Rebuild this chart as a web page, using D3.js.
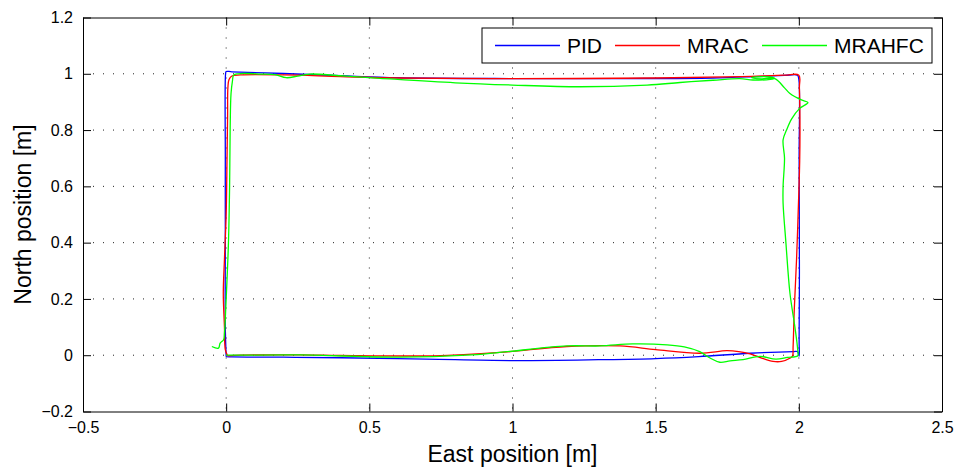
<!DOCTYPE html>
<html lang="en">
<head>
    <meta charset="UTF-8">
    <title>Position tracking - PID / MRAC / MRAHFC</title>
    <script src="https://d3js.org/d3.v7.min.js"></script>
    <style>
        body { margin: 0; background: #fff; font-family: "Liberation Sans", Arial, sans-serif; }
        .grid line { stroke: #222; stroke-dasharray: 1,9; stroke-width: 1; }
        .axis text { font-size: 16px; fill: #000; font-family: "Liberation Sans", Arial, sans-serif; }
        .axis path, .axis line { stroke: #000; }
    </style>
</head>
<body>
    <svg id="chart" width="961" height="468"></svg>

    <script>
        // tick values
        const xTicks = [-0.5, 0, 0.5, 1, 1.5, 2, 2.5];
        const yTicks = [-0.2, 0, 0.2, 0.4, 0.6, 0.8, 1, 1.2];

        // PID (blue) trajectory
        const pidX = [0.0, -0.003, -0.003, -0.003, -0.002, 0.0, 0.02, 0.2, 0.4, 0.6, 1.0, 1.4, 1.7, 1.85, 1.95, 1.995,
            2.0, 2.001, 2.002, 2.001, 2.001, 1.995, 1.98, 1.83, 1.65, 1.5, 1.3, 1.0, 0.7, 0.4, 0.2, 0.02, 0.0];
        const pidY = [-0.005, 0.1, 0.4, 0.7, 1.0, 1.008, 1.007, 1.001, 0.993, 0.986, 0.983, 0.983, 0.985, 0.99, 0.994, 0.995,
            0.98, 0.7, 0.3, 0.05, -0.003, 0.013, 0.013, 0.007, -0.005, -0.012, -0.016, -0.019, -0.014, -0.009, -0.007, -0.006, -0.005];

        // MRAC (red) trajectory
        const mracX = [0.005, -0.003, -0.006, -0.01, -0.006, 0.0, 0.003, 0.005, 0.006, 0.01, 0.02, 0.05, 0.2, 0.4, 0.6, 1.0, 1.5, 1.8, 1.95,
            2.0, 2.002, 2.004, 2.003, 2.0, 1.992, 1.984, 1.98, 1.978, 1.97, 1.94, 1.91, 1.87, 1.83, 1.79, 1.748, 1.654, 1.5, 1.375,
            1.19, 0.956, 0.723, 0.4, 0.258, 0.05, 0.005];
        const mracY = [-0.002, 0.02, 0.1, 0.22, 0.34, 0.5, 0.7, 0.85, 0.95, 0.98, 0.992, 0.996, 0.996, 0.99, 0.985, 0.983, 0.985, 0.99, 0.995,
            0.995, 0.95, 0.8, 0.69, 0.58, 0.34, 0.16, 0.03, -0.003, -0.01, -0.022, -0.022, -0.01, 0.005, 0.013, 0.016, 0.007, 0.02, 0.033,
            0.031, 0.01, -0.002, -0.001, 0.001, 0.0, -0.002];

        // MRAHFC (green) trajectory
        const mrahfcX = [-0.05, -0.027, -0.021, -0.009, -0.006, 0.0, 0.008, 0.012, 0.014, 0.017, 0.022, 0.026, 0.04, 0.08, 0.12, 0.17,
            0.21, 0.25, 0.29, 0.4, 0.537, 0.8, 1.0, 1.235, 1.47, 1.585, 1.7, 1.794, 1.84, 1.9, 1.916, 1.88, 1.835, 1.87, 1.916,
            1.95, 1.969, 2.009, 2.032, 2.003, 1.975, 1.957, 1.945, 1.95, 1.945, 1.945, 1.955, 1.969, 1.986, 1.996, 1.996,
            1.96, 1.92, 1.864, 1.805, 1.76, 1.724, 1.69, 1.654, 1.6, 1.54, 1.42, 1.305, 1.19, 0.956, 0.84, 0.607, 0.258, 0.05, 0.0];
        const mrahfcY = [0.031, 0.025, 0.043, 0.055, 0.078, 0.2, 0.4, 0.6, 0.81, 0.93, 0.975, 0.995, 1.0, 1.001, 0.999, 0.997,
            0.986, 0.992, 0.999, 0.993, 0.984, 0.968, 0.96, 0.954, 0.96, 0.969, 0.977, 0.983, 0.978, 0.98, 0.984, 0.99, 0.986, 0.982, 0.983,
            0.95, 0.93, 0.907, 0.898, 0.877, 0.84, 0.8, 0.765, 0.7, 0.6, 0.54, 0.398, 0.22, 0.102, 0.02, -0.002,
            -0.008, -0.014, -0.004, -0.016, -0.02, -0.025, -0.01, 0.013, 0.03, 0.037, 0.04, 0.033, 0.033, 0.01, 0.0, -0.007, 0.001, 0.0, 0.0];

        const seriesNames = ["PID", "MRAC", "MRAHFC"];
        const seriesColors = ["#0000ff", "#ff0000", "#00ff00"];

        const width = 961, height = 468;
        const margin = {top: 17.5, right: 19, bottom: 56.5, left: 83};
        const w = width - margin.left - margin.right;
        const h = height - margin.top - margin.bottom;

        const svg = d3.select("#chart");
        const g = svg.append("g").attr("transform", `translate(${margin.left},${margin.top})`);

        const x = d3.scaleLinear().domain([-0.5, 2.5]).range([0, w]);
        const y = d3.scaleLinear().domain([-0.2, 1.2]).range([h, 0]);
        const fmt = d3.format("~g");

        // dotted grid
        g.append("g").attr("class", "grid")
            .selectAll("line").data(xTicks.slice(1, -1)).enter().append("line")
            .attr("x1", d => x(d)).attr("x2", d => x(d)).attr("y1", 0).attr("y2", h);
        g.append("g").attr("class", "grid")
            .selectAll("line").data(yTicks.slice(1, -1)).enter().append("line")
            .attr("y1", d => y(d)).attr("y2", d => y(d)).attr("x1", 0).attr("x2", w);

        g.append("defs").append("clipPath").attr("id", "clip")
            .append("rect").attr("width", w).attr("height", h);

        const line = d3.line()
            .x(d => x(d[0])).y(d => y(d[1]))
            .curve(d3.curveCatmullRom.alpha(0.5));

        const series = [
            d3.zip(pidX, pidY),
            d3.zip(mracX, mracY),
            d3.zip(mrahfcX, mrahfcY)
        ];

        g.append("g").attr("clip-path", "url(#clip)")
            .selectAll("path").data(series).enter().append("path")
            .attr("fill", "none")
            .attr("stroke", (d, i) => seriesColors[i])
            .attr("stroke-width", 1.3)
            .attr("d", line);

        // axes, ticks pointing inward on all four sides
        g.append("g").attr("class", "axis").attr("transform", `translate(0,${h})`)
            .call(d3.axisBottom(x).tickValues(xTicks).tickFormat(fmt).tickSize(-8).tickSizeOuter(0).tickPadding(10));
        g.append("g").attr("class", "axis")
            .call(d3.axisLeft(y).tickValues(yTicks).tickFormat(fmt).tickSize(-8).tickSizeOuter(0).tickPadding(10));
        g.append("g").attr("class", "axis")
            .call(d3.axisTop(x).tickValues(xTicks).tickFormat("").tickSize(-8).tickSizeOuter(0));
        g.append("g").attr("class", "axis").attr("transform", `translate(${w},0)`)
            .call(d3.axisRight(y).tickValues(yTicks).tickFormat("").tickSize(-8).tickSizeOuter(0));

        // axis titles
        svg.append("text")
            .attr("x", margin.left + w / 2).attr("y", 462)
            .attr("text-anchor", "middle")
            .style("font-size", "23px")
            .text("East position [m]");
        svg.append("text")
            .attr("transform", `translate(31,${margin.top + h / 2}) rotate(-90)`)
            .attr("text-anchor", "middle")
            .style("font-size", "23px")
            .text("North position [m]");

        // legend
        const legend = svg.append("g").attr("transform", "translate(482,28)");
        legend.append("rect")
            .attr("width", 450).attr("height", 35)
            .attr("fill", "#fff").attr("stroke", "#000").attr("stroke-width", 1);
        const legendX = [13, 133, 280];
        seriesNames.forEach((name, i) => {
            legend.append("line")
                .attr("x1", legendX[i]).attr("x2", legendX[i] + 65)
                .attr("y1", 17.5).attr("y2", 17.5)
                .style("stroke", seriesColors[i]).style("stroke-width", 1.3);
            legend.append("text")
                .attr("x", legendX[i] + 72).attr("y", 25)
                .style("font-size", "21px")
                .text(name);
        });
    </script>
</body>
</html>
